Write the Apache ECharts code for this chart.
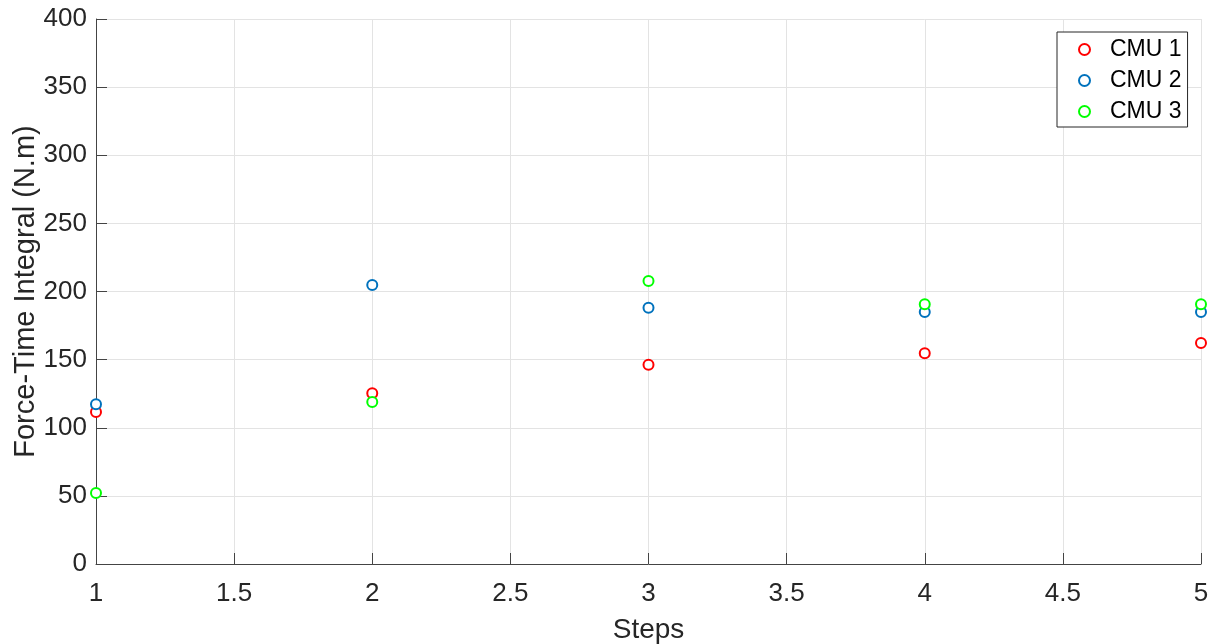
<!DOCTYPE html>
<html><head><meta charset="utf-8">
<script src="https://cdn.jsdelivr.net/npm/echarts@6/dist/echarts.min.js"></script>
<style>html,body{margin:0;padding:0;background:#fff}#c{width:1215px;height:644px}</style>
</head><body><div id="c"></div>
<script>
const steps = [1, 2, 3, 4, 5];
const cmu1 = [111.6, 125.3, 146.2, 154.6, 162.2];
const cmu2 = [117.2, 204.8, 188.0, 185.0, 185.0];
const cmu3 = [52.1, 118.9, 207.7, 190.6, 190.6];
const seriesNames = ['CMU 1', 'CMU 2', 'CMU 3'];
const colors = ['#ff0000', '#0072bd', '#00ff00'];
const xTicks = [1, 1.5, 2, 2.5, 3, 3.5, 4, 4.5, 5];
const yTicks = [0, 50, 100, 150, 200, 250, 300, 350, 400];

const font = 'Liberation Sans, Arial, sans-serif';
const chart = echarts.init(document.getElementById('c'), null, {renderer: 'canvas'});
const allData = [cmu1, cmu2, cmu3];
chart.setOption({
  animation: false,
  backgroundColor: '#ffffff',
  grid: {left: 96, right: 14, top: 19, bottom: 80, containLabel: false, outerBoundsMode: 'none'},
  legend: {
    orient: 'vertical', left: 1057, top: 32,
    backgroundColor: '#ffffff', borderColor: '#262626', borderWidth: 1,
    padding: [6, 6, 4, 21], itemGap: 8, itemWidth: 11, itemHeight: 11,
    textStyle: {fontFamily: font, fontSize: 23, color: '#000', padding: [0, 0, 0, 15]},
    data: seriesNames.map((n, i) => ({name: n, icon: 'circle',
      itemStyle: {color: '#fff', borderColor: colors[i], borderWidth: 2}}))
  },
  xAxis: {
    type: 'value', min: 1, max: 5, interval: 0.5,
    name: 'Steps', nameLocation: 'middle', nameGap: 52, nameMoveOverlap: false,
    nameTextStyle: {fontFamily: font, fontSize: 28, color: '#262626'},
    axisLine: {show: true, onZero: false, lineStyle: {color: '#444', width: 1}},
    axisTick: {show: true, inside: true, length: 11, lineStyle: {color: '#444'}},
    axisLabel: {fontFamily: font, fontSize: 26, color: '#262626', margin: 17},
    splitLine: {show: true, lineStyle: {color: '#e3e3e3', width: 1}}
  },
  yAxis: {
    type: 'value', min: 0, max: 400, interval: 50,
    name: 'Force-Time Integral (N.m)', nameLocation: 'middle', nameGap: 56, nameMoveOverlap: false,
    nameTextStyle: {fontFamily: font, fontSize: 29, color: '#262626'},
    axisLine: {show: true, lineStyle: {color: '#444', width: 1}},
    axisTick: {show: true, inside: true, length: 11, lineStyle: {color: '#444'}},
    axisLabel: {fontFamily: font, fontSize: 26, color: '#262626', margin: 9},
    splitLine: {show: true, lineStyle: {color: '#e3e3e3', width: 1}}
  },
  series: seriesNames.map((n, i) => ({
    name: n, type: 'scatter', symbol: 'circle', symbolSize: 10,
    itemStyle: {color: '#fff', borderColor: colors[i], borderWidth: 2, opacity: 1},
    data: steps.map((s, j) => [s, allData[i][j]]),
    z: 3 + i
  }))
});
</script></body></html>
